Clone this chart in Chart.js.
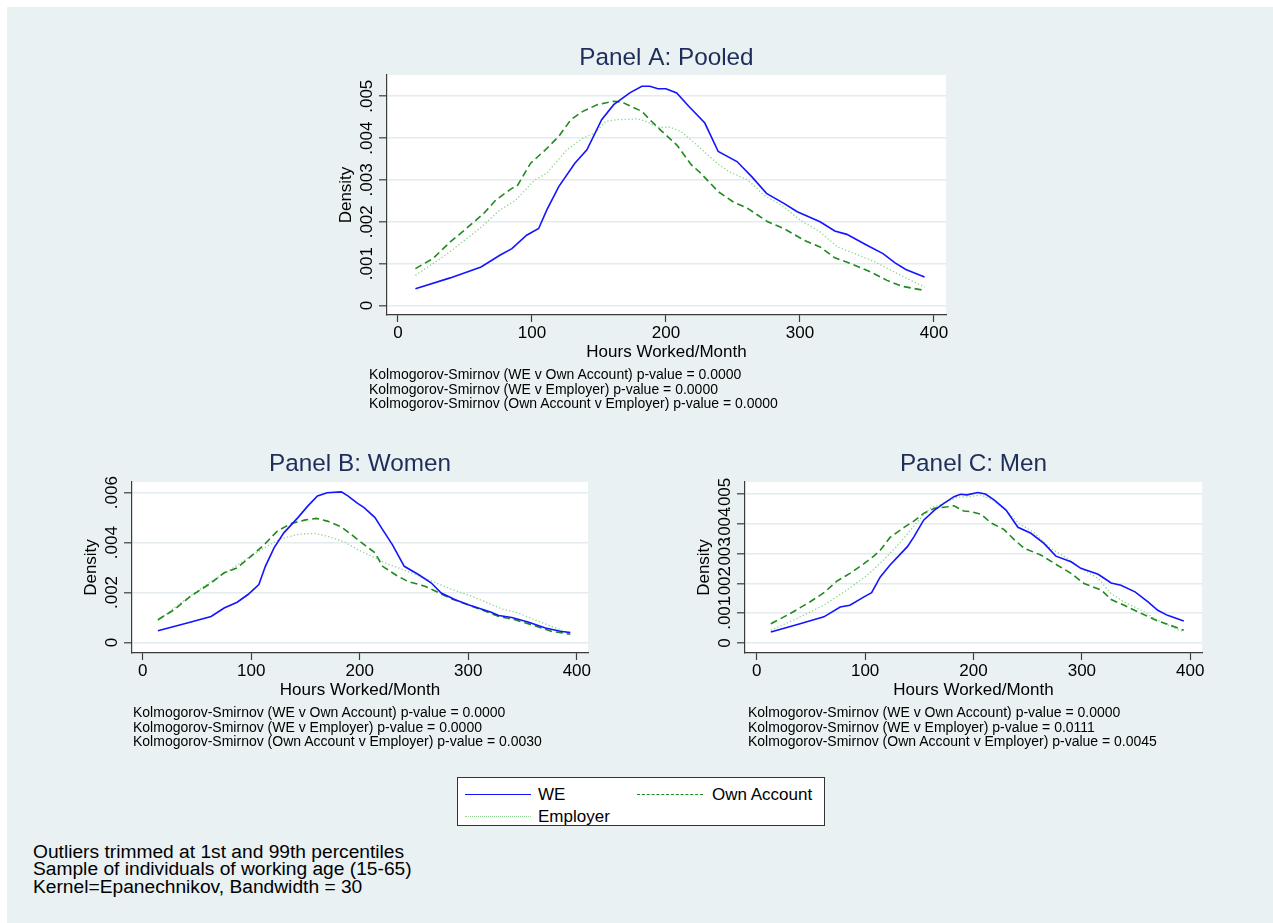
<!DOCTYPE html>
<html>
<head>
<meta charset="utf-8">
<script src="https://cdn.jsdelivr.net/npm/chart.js@4.4.1/dist/chart.umd.min.js"></script>
<style>
  html, body { margin: 0; padding: 0; background: #ffffff; }
  body { width: 1273px; height: 923px; position: relative; overflow: hidden;
         font-family: "Liberation Sans", Arial, Helvetica, sans-serif; }
  #frame { position: absolute; left: 7px; top: 7px; width: 1266px; height: 916px; background: #e9f1f3; }
  canvas { position: absolute; }
  .notes { position: absolute; font-size: 14px; line-height: 14.5px; color: #000; white-space: nowrap; }
  #footnotes { position: absolute; left: 33px; top: 843px; font-size: 19.2px; line-height: 17.3px; color: #000; white-space: nowrap; }
  #legend { position: absolute; left: 457px; top: 777px; width: 368px; height: 49px; background: #fff;
            border: 1px solid #333; box-sizing: border-box; }
  .lg-line { position: absolute; width: 66px; height: 0; }
  .lg-text { position: absolute; font-size: 17px; line-height: 17px; color: #000; white-space: nowrap; }
</style>
</head>
<body>
<div id="frame"></div>
<canvas id="panelA" width="680" height="360" style="left:300px; top:20px; width:680px; height:360px;"></canvas>
<canvas id="panelB" width="580" height="290" style="left:50px; top:440px; width:580px; height:290px;"></canvas>
<canvas id="panelC" width="580" height="290" style="left:670px; top:440px; width:580px; height:290px;"></canvas>
<div class="notes" id="notesA" style="left:369px; top:367px;"></div>
<div class="notes" id="notesB" style="left:133px; top:705px;"></div>
<div class="notes" id="notesC" style="left:748px; top:705px;"></div>
<div id="legend">
  <div class="lg-line" style="left:7px; top:16px; border-top:1.5px solid #1414ff;"></div>
  <div class="lg-text" style="left:80px; top:8px;">WE</div>
  <div class="lg-line" style="left:179px; top:16px; border-top:1.5px dashed #1f8a1f;"></div>
  <div class="lg-text" style="left:254px; top:8px;">Own Account</div>
  <div class="lg-line" style="left:7px; top:38px; border-top:1.5px dotted #8fd48f;"></div>
  <div class="lg-text" style="left:80px; top:30px;">Employer</div>
</div>
<div id="footnotes"></div>

<script>
// ---- Kernel density estimates of monthly hours worked ----
const xTicks = [0, 100, 200, 300, 400];
const yTicksPooled = [0, 0.001, 0.002, 0.003, 0.004, 0.005];
const yTicksWomen = [0, 0.002, 0.004, 0.006];
const yTicksMen = [0, 0.001, 0.002, 0.003, 0.004, 0.005];

const seriesNames = ['WE', 'Own Account', 'Employer'];

// Panel A: pooled sample
const pooledWeHours = [13,39,62,76,85,96,105,111,120,132,141,152,161,173,182,188,194,200,208,217,229,239,253,264,275,288,298,315,326,335,350,362,371,379,393];
const pooledWeDensity = [.0004,.00066,.00092,.0012,.00136,.00168,.00184,.00228,.00284,.0034,.00372,.00444,.0048,.00508,.00524,.00524,.00518,.00518,.00508,.00476,.00436,.00368,.00344,.00308,.00268,.00244,.00224,.002,.00178,.0017,.00144,.00124,.00102,.00086,.00068];
const pooledOwnHours = [13,26,39,51,64,73,85,89,99,110,120,129,138,149,161,167,182,188,197,208,219,226,239,250,261,276,288,303,315,326,338,353,365,376,393];
const pooledOwnDensity = [.00088,.00112,.00152,.00184,.0022,.00252,.0028,.00286,.0034,.00372,.00404,.00444,.00464,.0048,.00488,.00486,.00464,.00444,.00416,.00384,.00336,.00316,.00272,.00248,.00232,.002,.00184,.00156,.0014,.00114,.001,.0008,.0006,.00046,.00036];
const pooledEmpHours = [13,37,61,76,88,102,111,126,138,147,155,164,179,185,194,203,211,223,238,247,261,273,288,300,315,328,341,356,368,379,393];
const pooledEmpDensity = [.00072,.00124,.00184,.00228,.00252,.003,.00316,.00372,.004,.00412,.0044,.00444,.00446,.0044,.00426,.00426,.00416,.00384,.0034,.0032,.003,.00264,.00236,.00204,.00176,.0014,.00124,.00104,.00084,.00066,.00044];

// Panel B: women
const womenWeHours = [14,41,63,75,87,97,107,113,121,130,143,152,161,170,183,189,198,204,214,220,230,241,254,266,275,288,300,312,321,328,340,355,371,386,394];
const womenWeDensity = [.00047,.00078,.00104,.00138,.00161,.00192,.00232,.00305,.00379,.00439,.005,.00546,.00587,.006,.00603,.00587,.00557,.0054,.005,.00459,.00392,.00305,.00272,.00238,.00198,.00171,.00151,.00134,.00121,.00108,.001,.00082,.00058,.00044,.0004];
const womenOwnHours = [14,29,44,63,75,87,100,112,124,137,149,160,170,183,192,204,214,221,234,244,260,272,284,300,312,328,343,358,377,394];
const womenOwnDensity = [.00091,.00131,.00185,.00238,.00279,.00299,.00346,.00392,.00446,.00477,.0049,.00497,.00486,.00463,.00433,.00392,.00359,.00305,.00268,.00245,.00225,.00201,.00175,.00151,.00131,.00104,.00091,.00071,.00044,.00033];
const womenEmpHours = [14,35,60,81,100,115,127,143,158,170,186,198,211,223,238,251,269,284,303,318,331,346,361,377,394];
const womenEmpDensity = [.00088,.00158,.00236,.00292,.00348,.00386,.00415,.00433,.00437,.00426,.00402,.00372,.00346,.00319,.00295,.00272,.00241,.00214,.00185,.00158,.00134,.00118,.00091,.00064,.00037];

// Panel C: men
const menWeHours = [13,40,62,77,86,99,106,114,123,139,145,154,164,173,182,188,194,204,211,219,230,241,253,265,276,290,299,315,327,336,349,361,370,379,394];
const menWeDensity = [.00037,.00065,.00088,.00121,.00127,.00155,.00169,.00222,.00262,.00324,.00357,.00413,.00447,.0047,.00492,.005,.00498,.00506,.00501,.00481,.00447,.00389,.00369,.00335,.00292,.00273,.00251,.00231,.00202,.00194,.00172,.00138,.0011,.00093,.00074];
const menOwnHours = [13,31,49,62,74,86,99,108,114,123,136,145,154,164,176,182,191,197,207,216,228,238,247,262,275,290,302,318,327,339,355,370,386,394];
const menOwnDensity = [.00065,.00099,.00138,.00169,.00208,.00234,.00267,.00292,.00312,.00355,.00389,.0041,.00436,.00453,.00458,.00461,.00444,.00442,.00433,.00404,.00382,.00346,.00318,.00296,.00267,.00234,.002,.00178,.00146,.00127,.00099,.00074,.00054,.00043];
const menEmpHours = [13,37,62,83,102,117,133,148,160,173,185,197,207,216,228,242,256,271,287,302,315,327,339,355,370,383,394];
const menEmpDensity = [.00043,.00082,.00127,.00178,.00228,.00279,.0034,.00407,.00453,.0047,.0049,.00492,.00498,.00483,.00453,.00402,.00371,.00318,.00284,.00245,.00217,.00166,.00138,.0011,.00076,.00054,.00037];

// Test statistics printed under each panel
const ksPooled = [
  'Kolmogorov-Smirnov (WE v Own Account) p-value = 0.0000',
  'Kolmogorov-Smirnov (WE v Employer) p-value = 0.0000',
  'Kolmogorov-Smirnov (Own Account v Employer) p-value = 0.0000'
];
const ksWomen = [
  'Kolmogorov-Smirnov (WE v Own Account) p-value = 0.0000',
  'Kolmogorov-Smirnov (WE v Employer) p-value = 0.0000',
  'Kolmogorov-Smirnov (Own Account v Employer) p-value = 0.0030'
];
const ksMen = [
  'Kolmogorov-Smirnov (WE v Own Account) p-value = 0.0000',
  'Kolmogorov-Smirnov (WE v Employer) p-value = 0.0111',
  'Kolmogorov-Smirnov (Own Account v Employer) p-value = 0.0045'
];
const footnotes = [
  'Outliers trimmed at 1st and 99th percentiles',
  'Sample of individuals of working age (15-65)',
  'Kernel=Epanechnikov, Bandwidth = 30'
];

// ---- drawing ----
const FONT = '"Liberation Sans", Arial, Helvetica, sans-serif';
const AXIS_COLOR = '#3c3c3c';
const GRID_COLOR = '#e3ebee';
const TITLE_COLOR = '#1e2d5a';

function fillNotes(id, lines) {
  document.getElementById(id).innerHTML = lines.map(s => '<div>' + s + '</div>').join('');
}
fillNotes('notesA', ksPooled);
fillNotes('notesB', ksWomen);
fillNotes('notesC', ksMen);
fillNotes('footnotes', footnotes);

function tickText(v) {
  return v === 0 ? '0' : v.toFixed(3).replace(/^0/, '');
}

const panelDecor = {
  id: 'panelDecor',
  beforeDraw(chart) {
    const { ctx, chartArea: a } = chart;
    ctx.save();
    ctx.fillStyle = '#ffffff';
    ctx.fillRect(a.left, a.top, a.right - a.left, a.bottom - a.top);
    ctx.restore();
  },
  afterDraw(chart, args, opts) {
    const { ctx, chartArea: a } = chart;
    const y = chart.scales.y;
    ctx.save();
    ctx.fillStyle = '#000';
    ctx.font = '17px ' + FONT;
    ctx.textAlign = 'center';
    ctx.textBaseline = 'alphabetic';
    // rotated y tick labels
    y.ticks.forEach(t => {
      const py = y.getPixelForValue(t.value);
      ctx.save();
      ctx.translate(a.left - opts.labelGap, py);
      ctx.rotate(-Math.PI / 2);
      ctx.fillText(tickText(t.value), 0, 0);
      ctx.restore();
    });
    // y axis title
    ctx.save();
    ctx.translate(a.left - opts.titleGap, (a.top + a.bottom) / 2);
    ctx.rotate(-Math.PI / 2);
    ctx.fillText('Density', 0, 0);
    ctx.restore();
    // x axis title
    ctx.textBaseline = 'middle';
    ctx.fillText('Hours Worked/Month', (a.left + a.right) / 2, a.bottom + 37);
    // panel title
    ctx.fillStyle = TITLE_COLOR;
    ctx.font = '24.3px ' + FONT;
    ctx.textBaseline = 'alphabetic';
    ctx.fillText(opts.title, (a.left + a.right) / 2, opts.titleY);
    ctx.restore();
  }
};

function lineSet(label, hours, dens, style) {
  return Object.assign({
    label,
    data: hours.map((h, i) => ({ x: h, y: dens[i] })),
    pointRadius: 0,
    fill: false,
    tension: 0
  }, style);
}

const styleWE = { borderColor: '#1414ff', borderWidth: 1.6 };
const styleOwn = { borderColor: '#1f8a1f', borderWidth: 1.6, borderDash: [7, 4] };
const styleEmp = { borderColor: '#8fd48f', borderWidth: 1.3, borderDash: [1.3, 2.2] };

function makePanel(id, cfg) {
  new Chart(document.getElementById(id), {
    type: 'line',
    data: {
      datasets: [
        lineSet(seriesNames[0], cfg.we[0], cfg.we[1], styleWE),
        lineSet(seriesNames[1], cfg.own[0], cfg.own[1], styleOwn),
        lineSet(seriesNames[2], cfg.emp[0], cfg.emp[1], styleEmp)
      ]
    },
    options: {
      responsive: false,
      animation: false,
      devicePixelRatio: 1,
      layout: { padding: cfg.padding },
      plugins: {
        legend: { display: false },
        tooltip: { enabled: false },
        panelDecor: { title: cfg.title, titleY: cfg.titleY, labelGap: 15, titleGap: 36 }
      },
      scales: {
        x: {
          type: 'linear',
          min: cfg.xRange[0], max: cfg.xRange[1],
          afterBuildTicks: s => { s.ticks = xTicks.map(v => ({ value: v })); },
          afterFit: s => { s.height = cfg.xHeight; },
          ticks: { color: '#000', font: { family: FONT, size: 17 }, padding: 1, maxRotation: 0, autoSkip: false,
                   callback: v => String(v) },
          grid: { drawOnChartArea: false, drawTicks: true, tickLength: 7, tickColor: AXIS_COLOR, tickWidth: 1.2 },
          border: { display: true, color: AXIS_COLOR, width: 1.2 }
        },
        y: {
          type: 'linear',
          min: cfg.yRange[0], max: cfg.yRange[1],
          afterBuildTicks: s => { s.ticks = cfg.yTicks.map(v => ({ value: v })); },
          afterFit: s => { s.width = cfg.yWidth; },
          ticks: { display: false },
          grid: { color: GRID_COLOR, lineWidth: 1.6, drawTicks: true, tickLength: 8, tickColor: AXIS_COLOR, tickWidth: 1.2 },
          border: { display: true, color: AXIS_COLOR, width: 1.2 }
        }
      }
    },
    plugins: [panelDecor]
  });
}

makePanel('panelA', {
  title: 'Panel A: Pooled', titleY: 45,
  we: [pooledWeHours, pooledWeDensity], own: [pooledOwnHours, pooledOwnDensity], emp: [pooledEmpHours, pooledEmpDensity],
  xRange: [-8.2, 409], yRange: [-0.000227, 0.005508], yTicks: yTicksPooled,
  padding: { left: 0, top: 55, right: 34, bottom: 0 }, yWidth: 87, xHeight: 65
});
makePanel('panelB', {
  title: 'Panel B: Women', titleY: 31,
  we: [womenWeHours, womenWeDensity], own: [womenOwnHours, womenOwnDensity], emp: [womenEmpHours, womenEmpDensity],
  xRange: [-9.9, 410.3], yRange: [-0.000424, 0.006428], yTicks: yTicksWomen,
  padding: { left: 0, top: 42, right: 42, bottom: 0 }, yWidth: 82, xHeight: 77
});
makePanel('panelC', {
  title: 'Panel C: Men', titleY: 31,
  we: [menWeHours, menWeDensity], own: [menOwnHours, menOwnDensity], emp: [menEmpHours, menEmpDensity],
  xRange: [-10.8, 410.8], yRange: [-0.000336, 0.005413], yTicks: yTicksMen,
  padding: { left: 0, top: 42, right: 48, bottom: 0 }, yWidth: 75, xHeight: 77
});
</script>
</body>
</html>
